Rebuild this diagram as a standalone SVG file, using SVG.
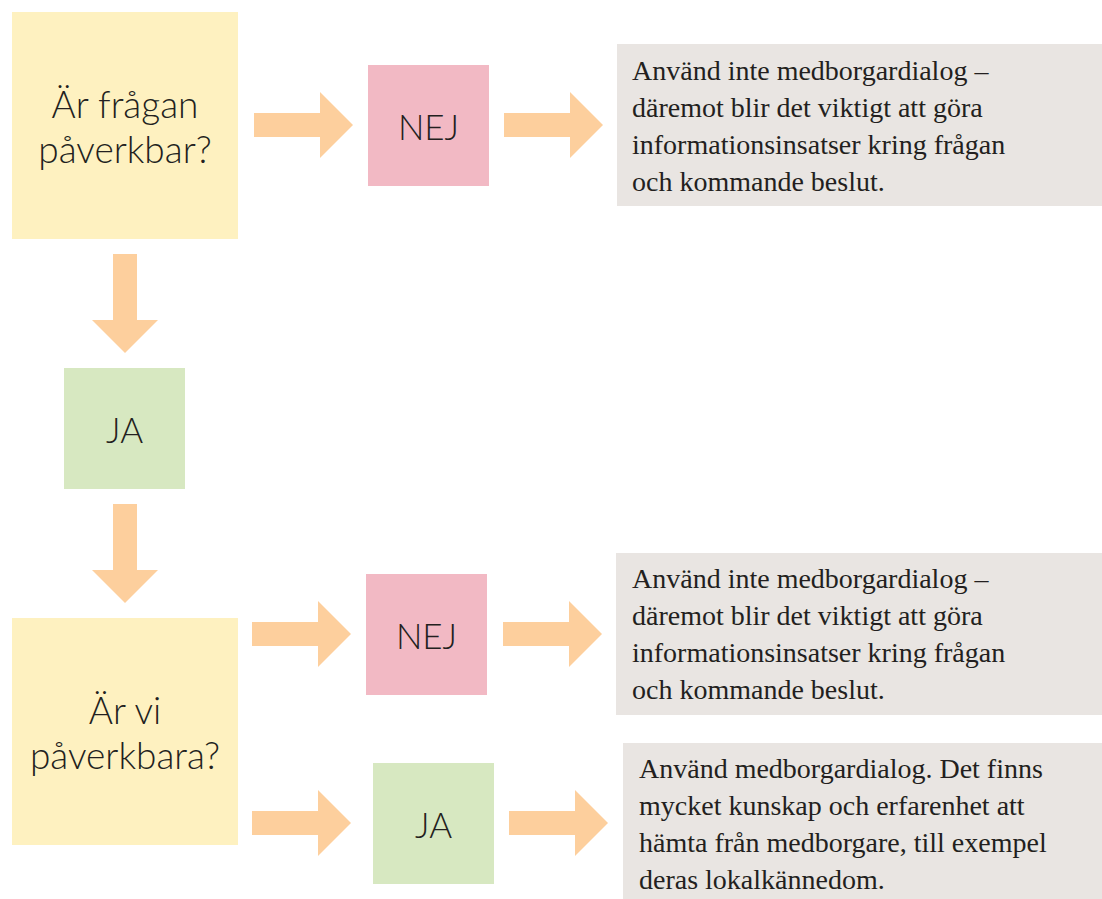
<svg xmlns="http://www.w3.org/2000/svg" width="1102" height="899" viewBox="0 0 1102 899">
<style>
.q{fill:#fef1c0}
.nej{fill:#f2b9c4}
.ja{fill:#d7e8c1}
.info{fill:#e9e5e2}
.arrow{fill:#fdcf9d}
.big{font-family:Lato,"Liberation Sans",sans-serif;font-weight:300;font-size:37px;fill:#231f20;text-anchor:middle}
.lab{font-family:Lato,"Liberation Sans",sans-serif;font-weight:300;font-size:35px;fill:#231f20;text-anchor:middle}
.body{font-family:"Liberation Serif","DejaVu Serif",serif;font-size:28px;fill:#231f20}
</style>
<defs>
<polygon id="ar" points="0,-12 66,-12 66,-33 99,0 66,33 66,12 0,12"/>
<polygon id="ad" points="-12,0 -12,66 -33,66 0,99 33,66 12,66 12,0"/>
</defs>
<rect width="1102" height="899" fill="#ffffff"/>
<g id="connectors" class="arrow">
<use href="#ar" x="254" y="125"/>
<use href="#ar" x="504" y="125"/>
<use href="#ad" x="125" y="254"/>
<use href="#ad" x="125" y="504"/>
<use href="#ar" x="252" y="634"/>
<use href="#ar" x="503" y="634"/>
<use href="#ar" x="252" y="823"/>
<use href="#ar" x="509" y="823"/>
</g>
<g id="q1">
<rect class="q" x="12" y="12" width="226" height="227"/>
<text class="big" x="125" y="118">Är frågan</text>
<text class="big" x="125" y="163">påverkbar?</text>
</g>
<g id="nej1">
<rect class="nej" x="368" y="65" width="121" height="121"/>
<text class="lab" x="428.5" y="140">NEJ</text>
</g>
<g id="info1">
<rect class="info" x="617" y="44" width="485" height="162"/>
<text class="body" x="632" y="80">Använd inte medborgardialog –</text>
<text class="body" x="632" y="117">däremot blir det viktigt att göra</text>
<text class="body" x="632" y="154">informationsinsatser kring frågan</text>
<text class="body" x="632" y="191">och kommande beslut.</text>
</g>
<g id="ja1">
<rect class="ja" x="64" y="368" width="121" height="121"/>
<text class="lab" x="124.5" y="443">JA</text>
</g>
<g id="q2">
<rect class="q" x="12" y="618" width="226" height="227"/>
<text class="big" x="125" y="724">Är vi</text>
<text class="big" x="125" y="769">påverkbara?</text>
</g>
<g id="nej2">
<rect class="nej" x="366" y="574" width="121" height="121"/>
<text class="lab" x="426.5" y="649">NEJ</text>
</g>
<g id="info2">
<rect class="info" x="616" y="553" width="486" height="162"/>
<text class="body" x="632" y="588">Använd inte medborgardialog –</text>
<text class="body" x="632" y="625">däremot blir det viktigt att göra</text>
<text class="body" x="632" y="662">informationsinsatser kring frågan</text>
<text class="body" x="632" y="699">och kommande beslut.</text>
</g>
<g id="ja2">
<rect class="ja" x="373" y="763" width="121" height="121"/>
<text class="lab" x="433.5" y="838">JA</text>
</g>
<g id="info3">
<rect class="info" x="623" y="743" width="479" height="156"/>
<text class="body" x="639" y="778">Använd medborgardialog. Det finns</text>
<text class="body" x="639" y="815">mycket kunskap och erfarenhet att</text>
<text class="body" x="639" y="852">hämta från medborgare, till exempel</text>
<text class="body" x="639" y="889">deras lokalkännedom.</text>
</g>
</svg>
